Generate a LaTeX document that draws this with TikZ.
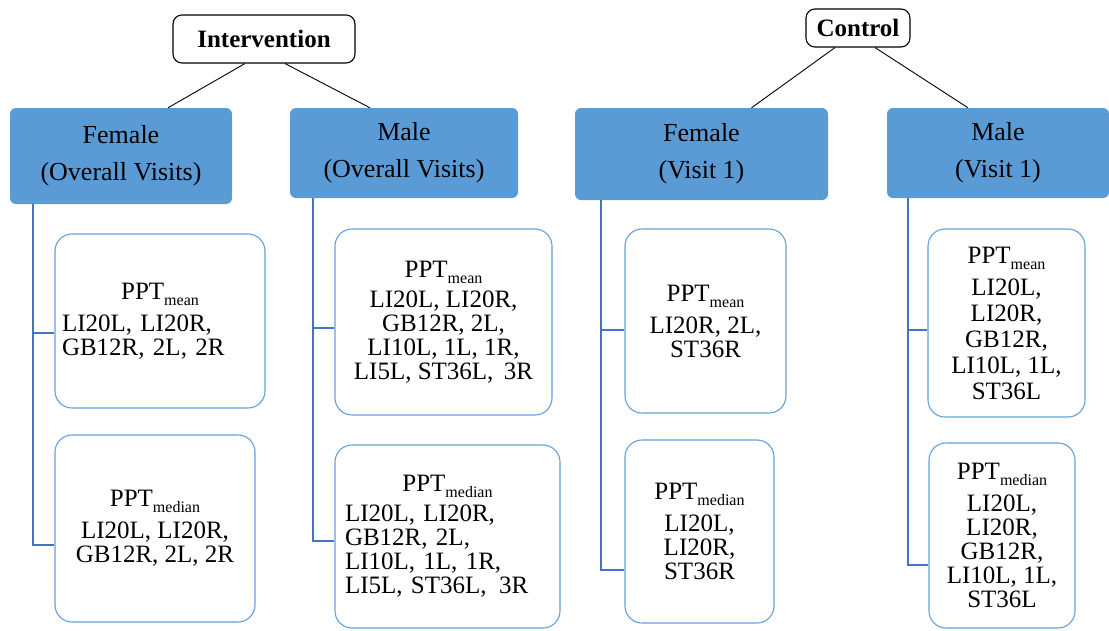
\documentclass[tikz,border=0pt]{standalone}
\usepackage{fontspec}
\setmainfont{Liberation Serif}
\definecolor{hdrblue}{RGB}{91,155,213}
\definecolor{boxblue}{RGB}{100,160,220}
\definecolor{lineblue}{RGB}{68,114,196}
\newcommand\sbs[1]{\raisebox{-6pt}{\fontsize{16}{16}\selectfont #1}}
\begin{document}
\begin{tikzpicture}[x=1pt,y=-1pt,
  group/.style={draw=black, line width=1.1pt, rounded corners=9pt, fill=white,
    inner sep=0pt, font=\fontsize{25}{25}\selectfont\bfseries},
  header/.style={fill=hdrblue, rounded corners=6pt, align=center, inner sep=0pt,
    font=\fontsize{26}{37}\selectfont},
  cbox/.style={draw=boxblue, line width=1.1pt, rounded corners=17pt, fill=white,
    inner sep=0pt, font=\fontsize{25}{24}\selectfont},
  tallbox/.style={cbox, font=\fontsize{25}{26}\selectfont},
  link/.style={black, line width=0.9pt},
  conn/.style={lineblue, line width=1.4pt}]
\useasboundingbox (0,0) rectangle (1109,630);

% group labels
\node[group, minimum width=182pt, minimum height=48pt] (int) at (264,39) {Intervention};
\node[group, minimum width=104pt, minimum height=38pt] (ctl) at (858,28) {Control};

% sub-group headers
\node[header, minimum width=222pt, minimum height=96pt] (f1h) at (121,156) {Female\\(Overall Visits)};
\node[header, minimum width=228pt, minimum height=90pt] (m1h) at (404,153) {Male\\(Overall Visits)};
\node[header, minimum width=253pt, minimum height=92pt] (f2h) at (701.5,154) {Female\\(Visit 1)};
\node[header, minimum width=222pt, minimum height=90pt] (m2h) at (998,153) {Male\\(Visit 1)};

% group to header links
\draw[link] ([xshift=-19pt]int.south) -- ([xshift=47pt]f1h.north);
\draw[link] ([xshift=21pt]int.south) -- ([xshift=-34pt]m1h.north);
\draw[link] ([xshift=-23pt]ctl.south) -- ([xshift=50pt]f2h.north);
\draw[link] ([xshift=17pt]ctl.south) -- ([xshift=-30pt]m2h.north);

% result boxes, intervention female
\node[cbox, minimum width=210pt, minimum height=174pt, text width=196pt, align=left] (b1) at (160,321)
  {\makebox[196pt]{PPT\sbs{mean}}\\[8pt]LI20L, LI20R,\\GB12R, 2L, 2R};
\node[cbox, minimum width=200pt, minimum height=187pt, align=center] (b2) at (155,528.5)
  {PPT\sbs{median}\\[8pt]LI20L, LI20R,\\GB12R, 2L, 2R};

% result boxes, intervention male
\node[cbox, minimum width=217pt, minimum height=186pt, align=center] (b3) at (443.5,322)
  {PPT\sbs{mean}\\[6pt]LI20L, LI20R,\\GB12R, 2L,\\LI10L, 1L, 1R,\\LI5L, ST36L, \,3R};
\node[cbox, minimum width=225pt, minimum height=183pt, text width=205pt, align=left] (b4) at (447.5,536.5)
  {\makebox[205pt]{PPT\sbs{median}}\\[6pt]LI20L, LI20R,\\GB12R, 2L,\\LI10L, 1L, 1R,\\LI5L, ST36L, \,3R};

% result boxes, control female
\node[cbox, minimum width=161pt, minimum height=184pt, align=center] (b5) at (705.5,321)
  {PPT\sbs{mean}\\[8pt]LI20R, 2L,\\ST36R};
\node[cbox, minimum width=149pt, minimum height=183pt, align=center] (b6) at (699.5,531.5)
  {PPT\sbs{median}\\[8pt]LI20L,\\LI20R,\\ST36R};

% result boxes, control male
\node[tallbox, minimum width=157pt, minimum height=188pt, align=center] (b7) at (1006.5,323)
  {PPT\sbs{mean}\\[6pt]LI20L,\\LI20R,\\GB12R,\\LI10L, 1L,\\ST36L};
\node[cbox, minimum width=146pt, minimum height=185pt, align=center] (b8) at (1002,535.5)
  {PPT\sbs{median}\\[8pt]LI20L,\\LI20R,\\GB12R,\\LI10L, 1L,\\ST36L};

% vertical rails below the headers
\coordinate (f1x) at (33,0);
\coordinate (m1x) at (313,0);
\coordinate (f2x) at (601,0);
\coordinate (m2x) at (908,0);

\draw[conn] (f1h.south -| f1x) |- ([yshift=-12pt]b1.west);
\draw[conn] (f1h.south -| f1x) |- ([yshift=-16.5pt]b2.west);
\draw[conn] (m1h.south -| m1x) |- ([yshift=-6pt]b3.west);
\draw[conn] (m1h.south -| m1x) |- ([yshift=-4.5pt]b4.west);
\draw[conn] (f2h.south -| f2x) |- ([yshift=-9pt]b5.west);
\draw[conn] (f2h.south -| f2x) |- ([yshift=-38.5pt]b6.west);
\draw[conn] (m2h.south -| m2x) |- ([yshift=-7pt]b7.west);
\draw[conn] (m2h.south -| m2x) |- ([yshift=-29.5pt]b8.west);
\end{tikzpicture}
\end{document}
